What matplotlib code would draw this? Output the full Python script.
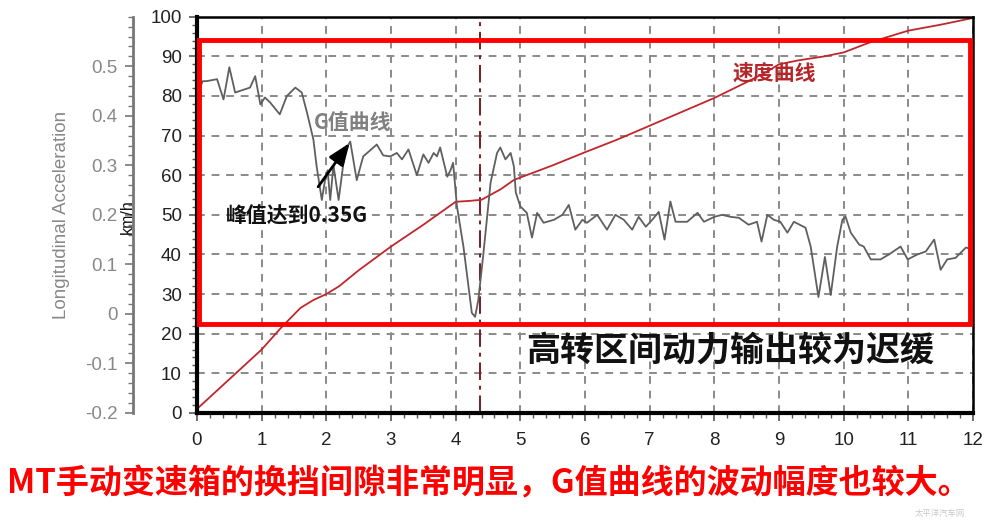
import matplotlib.pyplot as plt
from matplotlib.patches import Rectangle
from matplotlib.ticker import MultipleLocator

plt.rcParams["font.family"] = ["Liberation Sans", "Noto Sans CJK SC", "DejaVu Sans"]
cjk = ["Noto Sans CJK SC", "DejaVu Sans"]

# 速度曲线 (km/h)
t_speed = [0, 0.5, 1.0, 1.3, 1.6, 1.8, 2.0, 2.2, 2.5, 3.0, 3.5, 4.0, 4.2, 4.4,
           4.7, 4.9, 5.5, 6.0, 6.5, 7.0, 7.5, 8.0, 8.5, 8.8, 9.0, 9.3, 9.7,
           10.0, 10.4, 11.0, 11.5, 12.0]
speed = [1.0, 8.5, 16, 21.5, 26.5, 28.5, 30, 32, 36, 42, 47.5, 53.3, 53.5, 53.8,
         56.5, 58.8, 62.5, 65.8, 69, 72.5, 76, 79.5, 83.5, 86, 88, 89, 90,
         91, 93.5, 96.5, 98, 99.7]

# G值曲线 (Longitudinal Acceleration)
t_g = [0.03, 0.09, 0.15, 0.31, 0.41, 0.5, 0.59, 0.82, 0.9, 0.98, 1.05, 1.13,
       1.28, 1.39, 1.52, 1.62, 1.70, 1.80, 1.85, 1.93, 1.98, 2.02, 2.06, 2.11,
       2.19, 2.29, 2.37, 2.47, 2.57, 2.78, 2.88, 2.99, 3.09, 3.17, 3.27, 3.40,
       3.50, 3.58, 3.66, 3.71, 3.76, 3.87, 3.92, 3.96, 4.02, 4.12, 4.25, 4.30,
       4.35, 4.43, 4.54, 4.64, 4.69, 4.77, 4.85, 4.90, 4.93, 5.0, 5.1, 5.18,
       5.26, 5.36, 5.52, 5.65, 5.75, 5.85, 5.96, 6.03, 6.19, 6.34, 6.47, 6.6,
       6.73, 6.83, 6.94, 7.04, 7.14, 7.23, 7.32, 7.4, 7.58, 7.74, 7.84, 8.0,
       8.12, 8.25, 8.38, 8.53, 8.66, 8.73, 8.82, 8.92, 9.02, 9.13, 9.23, 9.41,
       9.49, 9.61, 9.71, 9.8, 9.9, 9.98, 10.03, 10.11, 10.24, 10.31, 10.42,
       10.57, 10.7, 10.88, 10.99, 11.14, 11.27, 11.4, 11.5, 11.6, 11.73, 11.89,
       12.0]
g_val = [0.453, 0.47, 0.47, 0.474, 0.433, 0.498, 0.447, 0.457, 0.48, 0.423,
         0.437, 0.427, 0.403, 0.44, 0.457, 0.447, 0.407, 0.352, 0.298, 0.23,
         0.27, 0.29, 0.23, 0.30, 0.23, 0.33, 0.348, 0.27, 0.318, 0.342, 0.32,
         0.318, 0.325, 0.312, 0.332, 0.28, 0.322, 0.305, 0.325, 0.318, 0.336,
         0.277, 0.29, 0.305, 0.217, 0.136, 0.002, -0.006, 0.028, 0.123, 0.265,
         0.325, 0.336, 0.312, 0.325, 0.298, 0.245, 0.217, 0.204, 0.154, 0.204,
         0.184, 0.19, 0.2, 0.22, 0.17, 0.19, 0.184, 0.2, 0.17, 0.2, 0.19, 0.17,
         0.196, 0.176, 0.19, 0.206, 0.15, 0.227, 0.186, 0.186, 0.204, 0.186,
         0.196, 0.2, 0.196, 0.194, 0.18, 0.186, 0.146, 0.2, 0.19, 0.186, 0.164,
         0.186, 0.174, 0.136, 0.034, 0.115, 0.038, 0.136, 0.19, 0.196, 0.164,
         0.14, 0.136, 0.11, 0.11, 0.12, 0.136, 0.11, 0.12, 0.126, 0.15, 0.089,
         0.11, 0.113, 0.134, 0.13]

shift_t = 4.37

fig = plt.figure(figsize=(10, 5.24), dpi=100)
ax = fig.add_axes([0.197, 0.212, 0.776, 0.756])

ax.set_xlim(0, 12)
ax.set_ylim(0, 100)
ax.xaxis.set_major_locator(MultipleLocator(1))
ax.xaxis.set_minor_locator(MultipleLocator(0.2))
ax.yaxis.set_major_locator(MultipleLocator(10))
ax.yaxis.set_minor_locator(MultipleLocator(2))
ax.tick_params(which="major", length=6, width=1.2, color="#555555",
               labelsize=13.5, labelcolor="#222222")
ax.tick_params(which="minor", length=3.5, width=1.0, color="#555555")
ax.tick_params(axis="x", pad=8)
ax.tick_params(axis="y", pad=5)
ax.grid(True, which="major", linestyle=(0, (4, 3.5)), color="#8a8a8a", lw=1.4)
for side, lw in [("left", 3), ("bottom", 3), ("top", 1.8), ("right", 1.8)]:
    ax.spines[side].set_linewidth(lw)
    ax.spines[side].set_color("black")

ax.axvline(shift_t, color="#7a1c1c", lw=1.4, linestyle=(0, (9, 3, 2, 3)))
ax.plot(t_speed, speed, color="#c0262c", lw=1.3)

# acceleration axis on the far left
ax2 = ax.twinx()
ax2.set_ylim(-0.2, 0.6)
ax2.yaxis.tick_left()
ax2.spines["left"].set_position(("outward", 46))
ax2.spines["left"].set_color("#777777")
ax2.spines["left"].set_linewidth(2)
for side in ["right", "top", "bottom"]:
    ax2.spines[side].set_visible(False)
ax2.set_yticks([-0.2, -0.1, 0, 0.1, 0.2, 0.3, 0.4, 0.5])
ax2.set_yticklabels(["-0.2", "-0.1", "0", "0.1", "0.2", "0.3", "0.4", "0.5"])
ax2.yaxis.set_minor_locator(MultipleLocator(0.02))
ax2.tick_params(which="major", length=6, width=1.2, color="#777777",
                labelsize=13.5, labelcolor="#888888", pad=5)
ax2.tick_params(which="minor", length=3.5, width=1.0, color="#777777")

ax2.plot(t_g, g_val, color="#5f5f5f", lw=1.3)

fig.text(0.062, 1 - 215 / 524, "Longitudinal Acceleration", rotation=90,
         ha="center", va="center", fontsize=13.5, color="#888888")
fig.text(0.127, 1 - 217 / 524, "km/h", rotation=90, ha="center", va="center",
         fontsize=11.5, color="#111111")

# annotations
ax2.text(2.41, 0.386, "G值曲线", family=cjk, fontsize=15, fontweight="bold",
         color="#808080", ha="center", va="center")
ax2.text(8.93, 0.487, "速度曲线", family=cjk, fontsize=15, fontweight="bold",
         color="#b3262a", ha="center", va="center")
ax2.annotate("峰值达到0.35G", xy=(2.36, 0.345), xytext=(1.55, 0.198),
             family=cjk, fontsize=15, fontweight="bold", color="#111111",
             ha="center", va="center",
             arrowprops=dict(arrowstyle="-|>,head_length=0.9,head_width=0.35",
                             color="black", lw=2, shrinkA=14, shrinkB=0))
ax2.text(8.24, -0.074, "高转区间动力输出较为迟缓", family=cjk, fontsize=24.5,
         fontweight="bold", color="#111111", ha="center", va="center")

ax2.add_patch(Rectangle((0.003, 0.225), 0.993, 0.717, transform=ax2.transAxes,
                        fill=False, edgecolor="#ff0000", lw=3.5, zorder=10))

fig.text(0.489, 0.076, "MT手动变速箱的换挡间隙非常明显，G值曲线的波动幅度也较大。",
         family=cjk, fontsize=23.8, fontweight="bold", color="#ff0000",
         ha="center", va="center")
fig.text(0.94, 0.012, "太平洋汽车网", family=cjk, fontsize=6, color="#c8c8c8",
         ha="center", va="bottom")

fig.savefig("out.png", dpi=100)
